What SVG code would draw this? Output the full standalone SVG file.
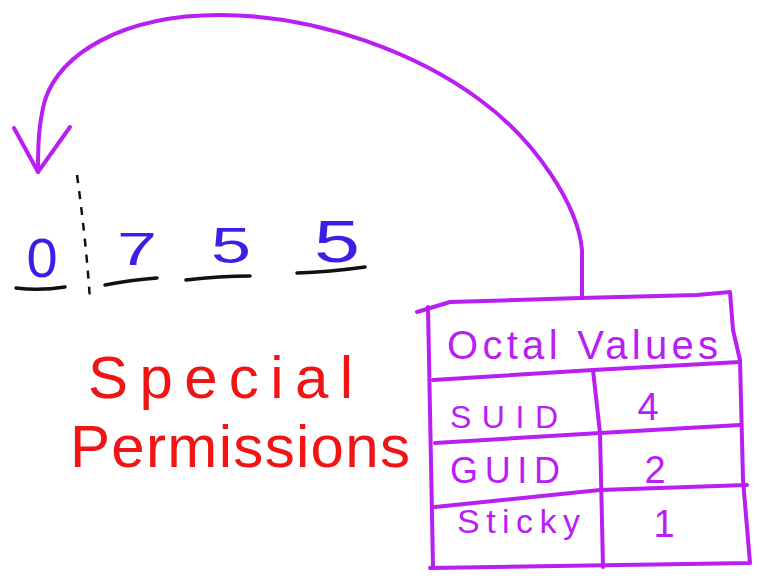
<svg xmlns="http://www.w3.org/2000/svg" width="759" height="578" viewBox="0 0 759 578">
<style>
.pl{fill:none;stroke:#b91ef2;stroke-width:4;stroke-linecap:round;stroke-linejoin:round}
.ul{fill:none;stroke:#111;stroke-width:3.5;stroke-linecap:round}
.dg{fill:#3a1fe6;font-family:"Liberation Sans",Arial,sans-serif;text-anchor:middle}
.rd{fill:#f01414;font-family:"Liberation Sans",Arial,sans-serif;font-size:60px}
.pt{fill:#b91ef2;font-family:"Liberation Sans",Arial,sans-serif}
</style>
<defs>
<marker id="ah" markerUnits="userSpaceOnUse" markerWidth="80" markerHeight="80" viewBox="-60 -40 70 80" refX="0" refY="0" orient="auto">
<path d="M-44,24 L0,0 L-45,-32" fill="none" stroke="#b91ef2" stroke-width="4" stroke-linecap="round" stroke-linejoin="round"/>
</marker>
</defs>
<rect width="759" height="578" fill="#fff"/>
<g id="connectors">
<path class="pl" d="M582,298 L582,250 C578,205 535,140 480,100 C420,55 320,15 220,15 C120,15 60,55 45,100 C38,125 38,150 38,172" marker-end="url(#ah)"/>
</g>
<g id="digits">
<path d="M77,175 Q86,240 90,300" fill="none" stroke="#111" stroke-width="2.5" stroke-dasharray="8 8"/>
<text class="dg" x="42" y="277" font-size="56">0</text>
<path class="ul" d="M16,288 Q40,291 65,287"/>
<text class="dg" x="137" y="265" font-size="46" textLength="40" lengthAdjust="spacingAndGlyphs">7</text>
<path class="ul" d="M105,285 Q130,280 157,278"/>
<text class="dg" x="231" y="263" font-size="50" textLength="40" lengthAdjust="spacingAndGlyphs">5</text>
<path class="ul" d="M186,280 Q220,276 250,276"/>
<text class="dg" x="337" y="262" font-size="60" textLength="46" lengthAdjust="spacingAndGlyphs">5</text>
<path class="ul" d="M297,273 Q330,272 365,267"/>
</g>
<g id="label">
<text class="rd" x="88" y="398" textLength="265" lengthAdjust="spacing">Special</text>
<text class="rd" x="70" y="467" textLength="340" lengthAdjust="spacing">Permissions</text>
</g>
<g id="table">
<path class="pl" d="M417,312 L450,302 L580,298 L697,295 L730,292 L733,330 L740,360 L743,480 L750,563 L430,568"/>
<path class="pl" d="M428,307 L433,567"/>
<path class="pl" d="M433,380 L593,370 L740,362"/>
<path class="pl" d="M435,443 L600,433 L740,425"/>
<path class="pl" d="M435,507 L600,490 L747,485"/>
<path class="pl" d="M593,370 L600,433 L603,567"/>
<text class="pt" x="447" y="359" font-size="40" textLength="271" lengthAdjust="spacing">Octal Values</text>
<text class="pt" x="450" y="428" font-size="32" textLength="108" lengthAdjust="spacing">SUID</text>
<text class="pt" x="648" y="420" font-size="38" text-anchor="middle">4</text>
<text class="pt" x="450" y="483" font-size="36" textLength="110" lengthAdjust="spacing">GUID</text>
<text class="pt" x="655" y="483" font-size="38" text-anchor="middle">2</text>
<text class="pt" x="457" y="533" font-size="34" textLength="123" lengthAdjust="spacing">Sticky</text>
<text class="pt" x="664" y="537" font-size="38" text-anchor="middle">1</text>
</g>
</svg>
